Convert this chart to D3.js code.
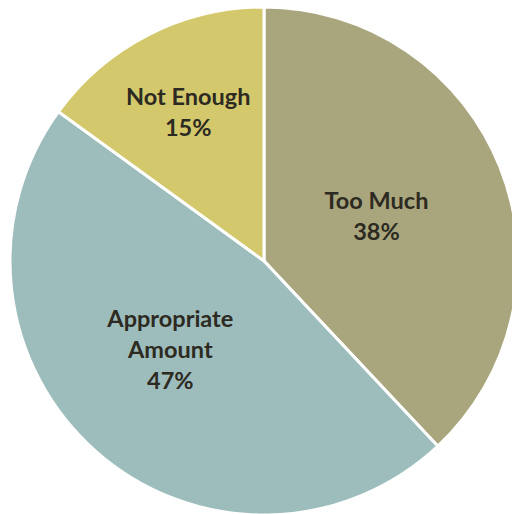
<!DOCTYPE html>
<html><head><meta charset="utf-8">
<script src="https://cdn.jsdelivr.net/npm/d3@7"></script>
<style>html,body{margin:0;padding:0;background:#fff;}svg{display:block;}</style>
</head><body>
<svg id="chart" width="512" height="514"></svg>
<script>
const categories = ["Too Much", "Appropriate Amount", "Not Enough"];
const values = [38, 47, 15];
const labelLines = [["Too Much"], ["Appropriate", "Amount"], ["Not Enough"]];
const colors = ["#a9a67d", "#9dbdbc", "#d3c96c"];

const svg = d3.select("#chart");
const cx = 264, cy = 261, r = 254;
const g = svg.append("g").attr("transform", `translate(${cx},${cy})`);

const pie = d3.pie().sort(null).value(d => d)(values);
const arc = d3.arc().innerRadius(0).outerRadius(r);
g.selectAll("path").data(pie).join("path")
  .attr("d", arc)
  .attr("fill", (d, i) => colors[i])
  .attr("stroke", "#fff").attr("stroke-width", 3).attr("stroke-linejoin", "miter");

const labelRadius = [121, 129, 167];
const fs = 23.5, lh = 31;
pie.forEach((d, i) => {
  const a = (d.startAngle + d.endAngle) / 2 + (i === 1 ? 0.09 : 0);
  const x = Math.sin(a) * labelRadius[i];
  const y = -Math.cos(a) * labelRadius[i];
  const lines = labelLines[i].concat([Math.round(values[i]) + "%"]);
  const t = g.append("text").attr("text-anchor", "middle")
    .attr("font-family", "Lato, 'Open Sans', sans-serif").attr("font-weight", "bold")
    .attr("font-size", fs).attr("fill", "#2d2a22");
  const y0 = y - (lines.length - 1) * lh / 2 + fs * 0.35;
  lines.forEach((s, k) => t.append("tspan").attr("x", x).attr("y", y0 + k * lh).text(s));
});
</script>
</body></html>
